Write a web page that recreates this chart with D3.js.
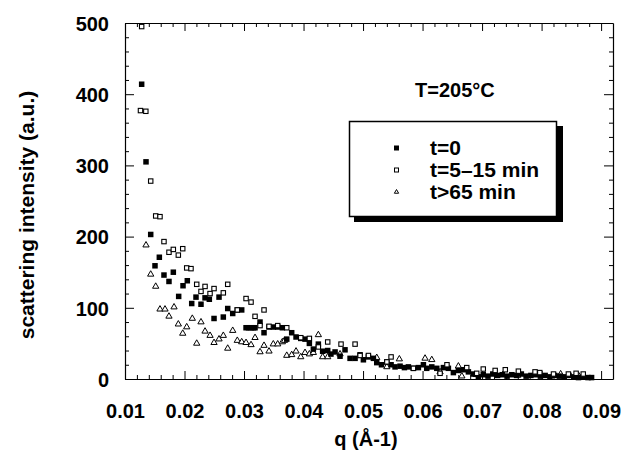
<!DOCTYPE html>
<html>
<head>
<meta charset="utf-8">
<script src="https://cdn.jsdelivr.net/npm/d3@7"></script>
<style>
  body { margin: 0; background: #fff; }
  text { font-family: "Liberation Sans", Arial, sans-serif; fill: #000; }
</style>
</head>
<body>
<svg id="chart" width="637" height="455"></svg>
<script>
// t=0 (filled squares)
var qT0 = [0.0128, 0.01353, 0.01432, 0.01504, 0.01577, 0.01655, 0.01739, 0.01812, 0.01902, 0.01975,
    0.02047, 0.02121, 0.02193, 0.02277, 0.02345, 0.02417, 0.02496, 0.0258, 0.02652, 0.02726,
    0.0281, 0.02887, 0.02961, 0.03034, 0.03076, 0.03118, 0.0316, 0.03185, 0.03269, 0.03336,
    0.0342, 0.03492, 0.03566, 0.03644, 0.03718, 0.03801, 0.03874, 0.03953, 0.04025, 0.04098,
    0.04165, 0.04249, 0.04321, 0.04406, 0.0446, 0.0453, 0.04613, 0.04697, 0.04782, 0.04866,
    0.0495, 0.05006, 0.0509, 0.05174, 0.0523, 0.0531, 0.054, 0.05471, 0.05538, 0.05622,
    0.05695, 0.05762, 0.05846, 0.0593, 0.06014, 0.0607, 0.06155, 0.06239, 0.0635, 0.06434,
    0.06518, 0.06602, 0.06686, 0.0677, 0.06853, 0.06938, 0.0702, 0.071, 0.0718, 0.0726,
    0.0734, 0.0742, 0.075, 0.0758, 0.0766, 0.0774, 0.0782, 0.079, 0.0798, 0.0806,
    0.0814, 0.0822, 0.083, 0.0838, 0.0846, 0.0854, 0.0862, 0.087, 0.0878, 0.0884];
var iT0 = [414, 305, 203, 159, 171, 146, 137, 150, 116, 131,
    138, 106, 115, 105, 114, 112, 85, 115, 87, 99,
    92, 97, 97, 72, 72, 72, 72, 72, 80, 65,
    73, 73, 73, 72, 56, 65, 59, 57, 56, 50,
    42, 49, 39, 40, 35, 38, 32, 41, 29, 29,
    34, 27, 31, 29, 23, 20, 24, 20, 17, 18,
    16, 17, 15, 16, 20, 15, 17, 15, 16, 15,
    9, 12, 13, 10, 7, 3, 6, 4, 7, 5,
    6, 4, 6, 5, 7, 4, 5, 6, 4, 5,
    3, 5, 4, 3, 5, 3, 2, 3, 2, 2];

// t=5-15 min (open squares)
var qT5 = [0.0128, 0.0126, 0.0135, 0.01432, 0.01516, 0.01588, 0.01655, 0.01739, 0.01812, 0.01896,
    0.0197, 0.02037, 0.02109, 0.02205, 0.02277, 0.02345, 0.02429, 0.02496, 0.02652, 0.02726,
    0.02887, 0.03034, 0.03118, 0.03185, 0.03269, 0.03336, 0.0342, 0.03566, 0.03718, 0.03953,
    0.04098, 0.04249, 0.04406, 0.0463, 0.04866, 0.0495, 0.0509, 0.054, 0.05471, 0.05846,
    0.0641, 0.06294, 0.06742, 0.0691, 0.0702, 0.0722, 0.0739, 0.0761, 0.0789, 0.0797,
    0.082, 0.0845, 0.0858, 0.087];
var iT5 = [495, 377, 376, 278, 229, 228, 193, 178, 182, 174,
    183, 156, 155, 133, 123, 130, 120, 127, 121, 133,
    97, 113, 108, 88, 75, 97, 74, 75, 72, 58,
    57, 45, 52, 49, 49, 33, 33, 24, 31, 15,
    20, 8, 16, 8, 14, 12, 13, 11, 10, 9,
    7, 7, 8, 7];

// t>65 min (open triangles)
var qT65 = [0.01353, 0.01432, 0.01516, 0.01588, 0.01672, 0.01739, 0.01824, 0.01896, 0.0197, 0.02037,
    0.02131, 0.02205, 0.02277, 0.02345, 0.02429, 0.02496, 0.0258, 0.02652, 0.02726, 0.0281,
    0.02887, 0.02961, 0.03034, 0.03118, 0.03185, 0.03269, 0.03336, 0.0342, 0.03492, 0.03566,
    0.03644, 0.0368, 0.03718, 0.03801, 0.03874, 0.03953, 0.04025, 0.04098, 0.04165, 0.04249,
    0.04321, 0.04406, 0.04613, 0.0523, 0.054, 0.0561, 0.06042, 0.06155, 0.06294, 0.06602,
    0.0666, 0.069, 0.0735, 0.076, 0.0795, 0.0832, 0.0862];
var iT65 = [188, 147, 130, 98, 98, 88, 101, 77, 64, 73,
    85, 50, 80, 67, 61, 51, 56, 61, 43, 68,
    54, 52, 51, 48, 58, 38, 47, 39, 49, 49,
    52, 54, 33, 34, 39, 31, 37, 35, 37, 62,
    31, 31, 35, 30, 17, 28, 29, 27, 10, 18,
    4, 6, 6, 5, 6, 7, 5];

var xTicks = [0.01, 0.02, 0.03, 0.04, 0.05, 0.06, 0.07, 0.08, 0.09];
var yTicks = [0, 100, 200, 300, 400, 500];
var legendLabels = ["t=0", "t=5\u201315 min", "t>65 min"];

var svg = d3.select("#chart");

// frame edges (avoid the global name "top")
var padL = 125, padR = 613, padT = 23, padB = 379;

var x = d3.scaleLinear().domain([0.01, 0.092]).range([padL, padR]);
var y = d3.scaleLinear().domain([0, 500]).range([padB, padT]);

// minor ticks every 0.002 in q and 20 in intensity
var xMinor = d3.range(0.012, 0.0915, 0.002).filter(function(d){ return Math.abs(d * 100 - Math.round(d * 100)) > 1e-6; });
var yMinor = d3.range(20, 500, 20).filter(function(d){ return d % 100 !== 0; });

var g = svg.append("g");

// bottom axis (ticks inside)
g.append("g").attr("transform", "translate(0," + padB + ")")
    .call(d3.axisBottom(x).tickValues(xTicks).tickSizeInner(-8).tickSizeOuter(0).tickFormat(d3.format(".2f")))
    .call(function(a){
        a.selectAll("text").attr("dy", null).attr("y", 39)
            .style("font-size", "20px").style("font-weight", "bold");
    });
g.append("g").attr("transform", "translate(0," + padB + ")")
    .call(d3.axisBottom(x).tickValues(xMinor).tickSize(-4).tickFormat(""))
    .call(function(a){ a.select(".domain").remove(); });

// top axis
g.append("g").attr("transform", "translate(0," + padT + ")")
    .call(d3.axisTop(x).tickValues(xTicks).tickSizeInner(-8).tickSizeOuter(0).tickFormat(""));
g.append("g").attr("transform", "translate(0," + padT + ")")
    .call(d3.axisTop(x).tickValues(xMinor).tickSize(-4).tickFormat(""))
    .call(function(a){ a.select(".domain").remove(); });

// left axis
g.append("g").attr("transform", "translate(" + padL + ",0)")
    .call(d3.axisLeft(y).tickValues(yTicks).tickSizeInner(-9).tickSizeOuter(0))
    .call(function(a){
        a.selectAll("text").attr("x", -16).attr("dy", "0.36em")
            .style("font-size", "20px").style("font-weight", "bold");
    });
g.append("g").attr("transform", "translate(" + padL + ",0)")
    .call(d3.axisLeft(y).tickValues(yMinor).tickSize(-4).tickFormat(""))
    .call(function(a){ a.select(".domain").remove(); });

// right axis
g.append("g").attr("transform", "translate(" + padR + ",0)")
    .call(d3.axisRight(y).tickValues(yTicks).tickSizeInner(-9).tickSizeOuter(0).tickFormat(""));
g.append("g").attr("transform", "translate(" + padR + ",0)")
    .call(d3.axisRight(y).tickValues(yMinor).tickSize(-4).tickFormat(""))
    .call(function(a){ a.select(".domain").remove(); });

g.selectAll(".tick line").attr("stroke", "#000");
g.selectAll(".domain").attr("stroke", "#000").attr("stroke-width", 1.2);

// axis titles
svg.append("text")
    .attr("x", 366).attr("y", 446)
    .attr("text-anchor", "middle")
    .style("font-size", "20px").style("font-weight", "bold")
    .text("q (\u00C5-1)");

svg.append("text")
    .attr("transform", "translate(34,215) rotate(-90)")
    .attr("text-anchor", "middle")
    .style("font-size", "21px").style("font-weight", "bold")
    .text("scattering intensity (a.u.)");

// markers
var sq = 5.5;
function drawFilled(sel, qs, vals){
    sel.selectAll(null).data(qs).enter().append("rect")
        .attr("x", function(d){ return x(d) - sq / 2; })
        .attr("y", function(d, i){ return y(vals[i]) - sq / 2; })
        .attr("width", sq).attr("height", sq)
        .attr("fill", "#000");
}
function drawOpen(sel, qs, vals){
    sel.selectAll(null).data(qs).enter().append("rect")
        .attr("x", function(d){ return x(d) - 2.2; })
        .attr("y", function(d, i){ return y(vals[i]) - 2.2; })
        .attr("width", 4.4).attr("height", 4.4)
        .attr("fill", "#fff").attr("stroke", "#000").attr("stroke-width", 1.1);
}
var tri = d3.symbol().type(d3.symbolTriangle).size(17);
function drawTri(sel, qs, vals){
    sel.selectAll(null).data(qs).enter().append("path")
        .attr("d", tri)
        .attr("transform", function(d, i){ return "translate(" + x(d) + "," + y(vals[i]) + ")"; })
        .attr("fill", "#fff").attr("stroke", "#000").attr("stroke-width", 1);
}

var plot = svg.append("g");
drawTri(plot.append("g"), qT65, iT65);
drawFilled(plot.append("g"), qT0, iT0);
drawOpen(plot.append("g"), qT5, iT5);

// temperature label
svg.append("text")
    .attr("x", 415).attr("y", 97)
    .style("font-size", "20px").style("font-weight", "bold")
    .text("T=205\u00B0C");

// legend with drop shadow
var lg = svg.append("g");
lg.append("rect").attr("x", 354).attr("y", 126).attr("width", 209).attr("height", 96).attr("fill", "#000");
lg.append("rect").attr("x", 349.5).attr("y", 121.5).attr("width", 207).attr("height", 95)
    .attr("fill", "#fff").attr("stroke", "#000").attr("stroke-width", 1.5);

var rowY = [148, 170, 192];
lg.append("rect").attr("x", 394).attr("y", rowY[0] - 2.5).attr("width", 5).attr("height", 5).attr("fill", "#000");
lg.append("rect").attr("x", 394.5).attr("y", rowY[1] - 2).attr("width", 4).attr("height", 4)
    .attr("fill", "#fff").attr("stroke", "#000").attr("stroke-width", 1);
lg.append("path").attr("d", d3.symbol().type(d3.symbolTriangle).size(8))
    .attr("transform", "translate(396.5," + rowY[2] + ")")
    .attr("fill", "#fff").attr("stroke", "#000").attr("stroke-width", 1);

lg.selectAll(null).data(legendLabels).enter().append("text")
    .attr("x", 430)
    .attr("y", function(d, i){ return rowY[i] + 7; })
    .style("font-size", "21px").style("font-weight", "bold")
    .text(function(d){ return d; });
</script>
</body>
</html>
